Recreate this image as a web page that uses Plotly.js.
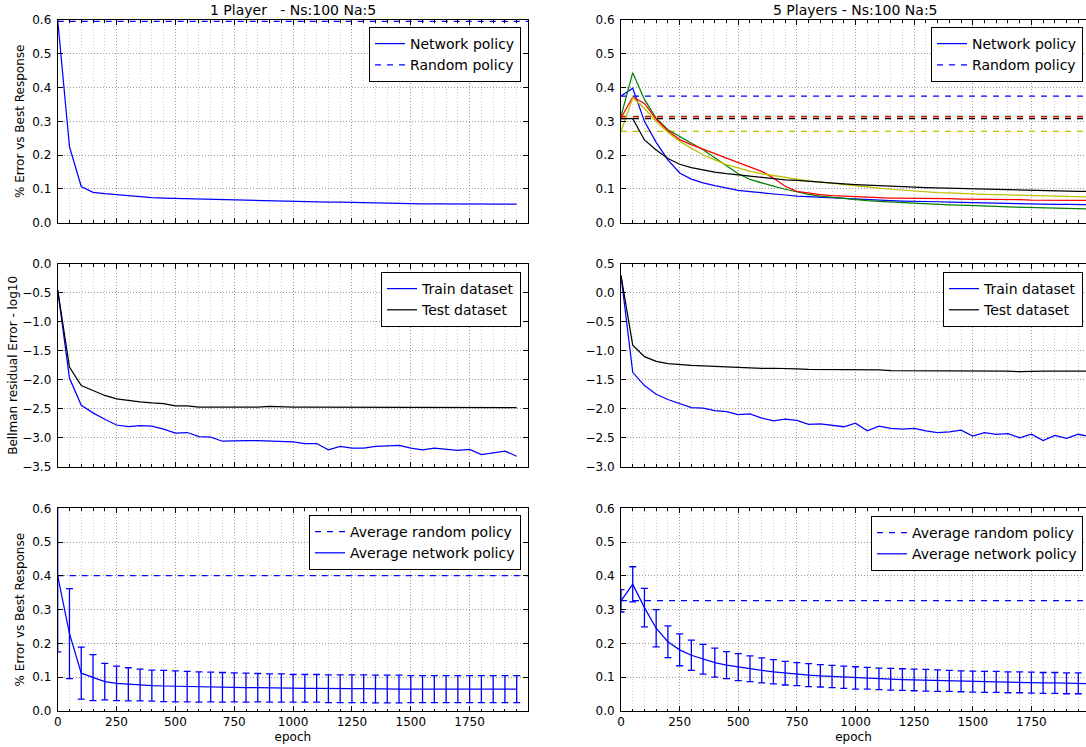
<!DOCTYPE html>
<html>
<head>
<meta charset="utf-8">
<script src="https://cdn.plot.ly/plotly-3.0.1.min.js"></script>
<style>
html,body{margin:0;padding:0;background:#fff;}
#chart{width:1086px;height:747px;}
</style>
</head>
<body>
<div id="chart"></div>
<script>
// ---------------- DATA ----------------
const epochs1 = [0,50,100,150,200,250,300,350,400,450,500,550,600,650,700,750,800,850,900,950,1000,1050,1100,1150,1200,1250,1300,1350,1400,1450,1500,1550,1600,1650,1700,1750,1800,1850,1900,1950];
const epochs5 = [0,50,100,150,200,250,300,350,400,450,500,550,600,650,700,750,800,850,900,950,1000,1050,1100,1150,1200,1250,1300,1350,1400,1450,1500,1550,1600,1650,1700,1750,1800,1850,1900,1950,2000];

// 1 player: % error vs best response
const network1 = [0.600,0.225,0.107,0.090,0.086,0.083,0.080,0.076,0.074,0.073,0.072,0.071,0.070,0.069,0.068,0.067,0.066,0.065,0.064,0.063,0.062,0.062,0.062,0.061,0.061,0.060,0.059,0.058,0.058,0.057,0.057,0.056,0.056,0.056,0.056,0.055,0.055,0.055,0.055,0.055];
const random1 = 0.596;

// 5 players: per-player network policy error (blue, green, red, yellow, black)
const net5Blue   = [0.375,0.398,0.300,0.238,0.186,0.147,0.129,0.118,0.110,0.103,0.096,0.092,0.088,0.084,0.082,0.079,0.077,0.075,0.073,0.071,0.069,0.067,0.066,0.065,0.064,0.064,0.063,0.062,0.061,0.060,0.060,0.059,0.058,0.057,0.056,0.056,0.055,0.054,0.054,0.053,0.053];
const net5Green  = [0.315,0.444,0.365,0.309,0.275,0.255,0.235,0.216,0.192,0.168,0.145,0.128,0.117,0.108,0.099,0.091,0.084,0.079,0.075,0.071,0.067,0.065,0.063,0.061,0.059,0.057,0.056,0.055,0.053,0.052,0.050,0.049,0.048,0.047,0.046,0.045,0.044,0.043,0.042,0.041,0.041];
const net5Red    = [0.310,0.372,0.353,0.306,0.272,0.246,0.231,0.217,0.204,0.191,0.178,0.166,0.152,0.132,0.108,0.093,0.087,0.083,0.080,0.078,0.076,0.075,0.074,0.073,0.073,0.072,0.072,0.071,0.071,0.070,0.070,0.069,0.069,0.068,0.068,0.067,0.067,0.067,0.066,0.066,0.066];
const net5Yellow = [0.270,0.370,0.338,0.300,0.267,0.241,0.220,0.201,0.186,0.172,0.162,0.152,0.145,0.139,0.134,0.129,0.124,0.120,0.116,0.112,0.108,0.105,0.102,0.099,0.096,0.093,0.091,0.089,0.088,0.086,0.085,0.084,0.083,0.082,0.081,0.080,0.079,0.078,0.077,0.076,0.076];
const net5Black  = [0.308,0.308,0.245,0.215,0.190,0.173,0.163,0.156,0.150,0.145,0.141,0.137,0.133,0.130,0.127,0.125,0.122,0.120,0.118,0.115,0.113,0.111,0.109,0.107,0.106,0.105,0.104,0.103,0.102,0.101,0.100,0.099,0.098,0.097,0.096,0.096,0.095,0.094,0.094,0.093,0.093];
// per-player random policy error (blue, green, red, yellow, black)
const random5 = [0.375, 0.315, 0.313, 0.270, 0.308];

// Bellman residual error (log10)
const train1 = [-0.45,-1.97,-2.44,-2.57,-2.68,-2.78,-2.81,-2.79,-2.80,-2.85,-2.92,-2.91,-2.98,-2.99,-3.06,-3.05,-3.05,-3.05,-3.06,-3.06,-3.07,-3.10,-3.10,-3.21,-3.15,-3.18,-3.18,-3.15,-3.14,-3.13,-3.18,-3.21,-3.18,-3.20,-3.22,-3.20,-3.29,-3.26,-3.23,-3.32];
const test1  = [-0.45,-1.78,-2.10,-2.19,-2.27,-2.33,-2.36,-2.38,-2.40,-2.41,-2.45,-2.45,-2.47,-2.47,-2.48,-2.48,-2.47,-2.47,-2.46,-2.47,-2.47,-2.47,-2.47,-2.48,-2.48,-2.48,-2.48,-2.47,-2.47,-2.48,-2.48,-2.48,-2.47,-2.47,-2.47,-2.47,-2.47,-2.47,-2.47,-2.48];
const train5 = [0.30,-1.37,-1.60,-1.75,-1.84,-1.91,-1.98,-1.99,-2.03,-2.05,-2.10,-2.09,-2.16,-2.21,-2.18,-2.20,-2.27,-2.26,-2.28,-2.31,-2.25,-2.38,-2.30,-2.34,-2.35,-2.34,-2.38,-2.41,-2.40,-2.37,-2.47,-2.41,-2.44,-2.43,-2.50,-2.44,-2.55,-2.46,-2.51,-2.44,-2.48];
const test5  = [0.30,-0.90,-1.10,-1.18,-1.22,-1.24,-1.25,-1.26,-1.27,-1.28,-1.29,-1.29,-1.30,-1.30,-1.30,-1.31,-1.32,-1.32,-1.32,-1.33,-1.33,-1.33,-1.33,-1.34,-1.34,-1.34,-1.34,-1.34,-1.35,-1.35,-1.35,-1.35,-1.35,-1.35,-1.36,-1.35,-1.35,-1.35,-1.35,-1.35,-1.35];

// Averages with standard deviation
const avgNet1 = [0.400,0.229,0.112,0.099,0.087,0.082,0.079,0.077,0.075,0.074,0.073,0.072,0.071,0.071,0.070,0.070,0.069,0.069,0.068,0.068,0.067,0.067,0.067,0.066,0.066,0.066,0.066,0.065,0.065,0.065,0.065,0.065,0.065,0.065,0.065,0.065,0.065,0.065,0.065,0.065];
const avgSd1  = [0.225,0.133,0.077,0.068,0.054,0.051,0.049,0.047,0.046,0.046,0.046,0.045,0.045,0.044,0.044,0.043,0.043,0.042,0.042,0.042,0.041,0.041,0.041,0.041,0.041,0.041,0.041,0.041,0.041,0.041,0.040,0.040,0.040,0.040,0.040,0.040,0.040,0.040,0.040,0.040];
const avgRandom1 = 0.401;
const avgNet5 = [0.326,0.375,0.306,0.245,0.205,0.181,0.165,0.153,0.143,0.136,0.130,0.125,0.120,0.116,0.112,0.109,0.106,0.104,0.102,0.100,0.098,0.097,0.095,0.094,0.093,0.092,0.091,0.090,0.089,0.088,0.087,0.086,0.086,0.085,0.085,0.084,0.083,0.083,0.082,0.082,0.081];
const avgSd5  = [0.033,0.052,0.057,0.055,0.047,0.047,0.045,0.044,0.043,0.040,0.040,0.038,0.037,0.036,0.035,0.034,0.034,0.033,0.033,0.033,0.033,0.032,0.032,0.032,0.032,0.032,0.032,0.032,0.031,0.031,0.031,0.031,0.031,0.031,0.031,0.031,0.031,0.031,0.031,0.031,0.031];
const avgRandom5 = 0.327;

const titleLeft = "1 Player\u00a0\u00a0 - Ns:100 Na:5";
const titleRight = "5 Players - Ns:100 Na:5";

// ---------------- LAYOUT HELPERS ----------------
const W = 1086, H = 747;
const fx = p => p / W;
const fy = p => 1 - p / H;
const FONT = "DejaVu Sans, Liberation Sans, sans-serif";
const BLUE = "#0000ff";
const playerColors = ["#0000ff", "#008000", "#ff0000", "#bfbf00", "#000000"];
const DASH = "6px,6px";
const X_FULL = [0, 2000];
const LW = 1.25;

const domXL = [fx(57.7), fx(528)];
const domXR = [fx(621), 1];
const rangeXL = [0, 1998];
const rangeXR = [0, 2000 * (W - 621) / (1090 - 621)];
const domTop = [fy(222.7), fy(20)];
const domMid = [fy(466.7), fy(264)];
const domBot = [fy(711), fy(508.3)];

function xax(domain, range, anchor, labels) {
  return {
    domain: domain, range: range, anchor: anchor,
    tick0: 0, dtick: 250, ticks: "inside", ticklen: 5, tickwidth: 1, tickcolor: "#000",
    showline: true, linecolor: "#000", linewidth: 1, mirror: "ticks",
    showgrid: true, gridcolor: "#9a9a9a", griddash: "1px,2px", gridwidth: 1,
    zeroline: false, showticklabels: labels,
    tickfont: {family: FONT, size: 12, color: "#000"},
    minor: {dtick: 50, tick0: 0, ticks: "inside", ticklen: 2.5, tickcolor: "#000",
            showgrid: true, gridcolor: "#cfcfcf", griddash: "1px,2px", gridwidth: 1},
    title: labels ? {text: "epoch", font: {family: FONT, size: 12, color: "#000"}, standoff: 4} : {text: ""},
    fixedrange: true
  };
}
function yax(domain, range, anchor, mirror, title) {
  return {
    domain: domain, range: range, anchor: anchor,
    dtick: (range[1] - range[0]) > 1 ? 0.5 : 0.1, tick0: 0, tickformat: ".1f",
    ticks: "inside", ticklen: 5, tickwidth: 1, tickcolor: "#000",
    showline: true, linecolor: "#000", linewidth: 1, mirror: mirror ? "ticks" : false,
    showgrid: true, gridcolor: "#9a9a9a", griddash: "1px,2px", gridwidth: 1,
    zeroline: false, ticklabelstandoff: 3,
    tickfont: {family: FONT, size: 12, color: "#000"},
    title: title ? {text: title, font: {family: FONT, size: 12, color: "#000"}} : {text: ""},
    fixedrange: true
  };
}
function legendBox(rightPx, topPx) {
  return {
    x: fx(rightPx), xanchor: "right", y: fy(topPx), yanchor: "top",
    bgcolor: "#ffffff", bordercolor: "#000", borderwidth: 1,
    font: {family: FONT, size: 14, color: "#000"},
    tracegroupgap: 0, itemwidth: 30
  };
}

// ---------------- TRACES ----------------
const traces = [];
// Top-left
traces.push({x: epochs1, y: network1, xaxis: "x", yaxis: "y", mode: "lines",
  line: {color: BLUE, width: LW}, name: "Network policy", legend: "legend", legendrank: 1});
traces.push({x: X_FULL, y: [random1, random1], xaxis: "x", yaxis: "y", mode: "lines",
  line: {color: BLUE, width: LW, dash: DASH}, name: "Random policy", legend: "legend", legendrank: 2});

// Top-right: random lines (drawn first) then network curves
const drawOrder = [1, 4, 3, 2, 0];
drawOrder.forEach(i => {
  traces.push({x: X_FULL, y: [random5[i], random5[i]], xaxis: "x2", yaxis: "y2", mode: "lines",
    line: {color: playerColors[i], width: LW, dash: DASH},
    name: "Random policy", legend: "legend2", legendrank: 2, showlegend: i === 0});
});
const net5 = [net5Blue, net5Green, net5Red, net5Yellow, net5Black];
[0, 1, 2, 3, 4].forEach(i => {
  traces.push({x: epochs5, y: net5[i], xaxis: "x2", yaxis: "y2", mode: "lines",
    line: {color: playerColors[i], width: LW},
    name: "Network policy", legend: "legend2", legendrank: 1, showlegend: i === 0});
});

// Middle-left / middle-right
traces.push({x: epochs1, y: train1, xaxis: "x3", yaxis: "y3", mode: "lines",
  line: {color: BLUE, width: LW}, name: "Train dataset", legend: "legend3", legendrank: 1});
traces.push({x: epochs1, y: test1, xaxis: "x3", yaxis: "y3", mode: "lines",
  line: {color: "#000", width: LW}, name: "Test dataset", legend: "legend3", legendrank: 2});
traces.push({x: epochs5, y: train5, xaxis: "x4", yaxis: "y4", mode: "lines",
  line: {color: BLUE, width: LW}, name: "Train dataset", legend: "legend4", legendrank: 1});
traces.push({x: epochs5, y: test5, xaxis: "x4", yaxis: "y4", mode: "lines",
  line: {color: "#000", width: LW}, name: "Test dataset", legend: "legend4", legendrank: 2});

// Bottom-left / bottom-right
traces.push({x: X_FULL, y: [avgRandom1, avgRandom1], xaxis: "x5", yaxis: "y5", mode: "lines",
  line: {color: BLUE, width: LW, dash: DASH}, name: "Average random policy", legend: "legend5", legendrank: 1});
traces.push({x: epochs1, y: avgNet1, xaxis: "x5", yaxis: "y5", mode: "lines",
  line: {color: BLUE, width: LW}, name: "Average network policy", legend: "legend5", legendrank: 2,
  error_y: {type: "data", array: avgSd1, visible: true, color: BLUE, thickness: 1.3, width: 3.5}});
traces.push({x: X_FULL, y: [avgRandom5, avgRandom5], xaxis: "x6", yaxis: "y6", mode: "lines",
  line: {color: BLUE, width: LW, dash: DASH}, name: "Average random policy", legend: "legend6", legendrank: 1});
traces.push({x: epochs5, y: avgNet5, xaxis: "x6", yaxis: "y6", mode: "lines",
  line: {color: BLUE, width: LW}, name: "Average network policy", legend: "legend6", legendrank: 2,
  error_y: {type: "data", array: avgSd5, visible: true, color: BLUE, thickness: 1.3, width: 3.5}});

// ---------------- LAYOUT ----------------
const layout = {
  width: W, height: H,
  margin: {l: 0, r: 0, t: 0, b: 0},
  paper_bgcolor: "#fff", plot_bgcolor: "#fff",
  font: {family: FONT, size: 12, color: "#000"},
  showlegend: true,
  xaxis:  xax(domXL, rangeXL, "y", false),
  yaxis:  yax(domTop, [0, 0.6], "x", true, "% Error vs Best Response"),
  xaxis2: xax(domXR, rangeXR, "y2", false),
  yaxis2: yax(domTop, [0, 0.6], "x2", false, null),
  xaxis3: xax(domXL, rangeXL, "y3", false),
  yaxis3: yax(domMid, [-3.5, 0], "x3", true, "Bellman residual Error - log10"),
  xaxis4: xax(domXR, rangeXR, "y4", false),
  yaxis4: yax(domMid, [-3.0, 0.5], "x4", false, null),
  xaxis5: xax(domXL, rangeXL, "y5", true),
  yaxis5: yax(domBot, [0, 0.6], "x5", true, "% Error vs Best Response"),
  xaxis6: xax(domXR, rangeXR, "y6", true),
  yaxis6: yax(domBot, [0, 0.6], "x6", false, null),
  legend:  legendBox(521, 27),
  legend2: legendBox(1083, 27),
  legend3: legendBox(521, 272),
  legend4: legendBox(1083, 272),
  legend5: legendBox(521, 515),
  legend6: legendBox(1083, 516),
  annotations: [
    {text: titleLeft, xref: "paper", yref: "paper", x: (domXL[0] + domXL[1]) / 2, y: fy(20),
     xanchor: "center", yanchor: "bottom", showarrow: false, font: {family: FONT, size: 14, color: "#000"}},
    {text: titleRight, xref: "paper", yref: "paper", x: fx((621 + 1090) / 2), y: fy(20),
     xanchor: "center", yanchor: "bottom", showarrow: false, font: {family: FONT, size: 14, color: "#000"}}
  ]
};

Plotly.newPlot("chart", traces, layout, {displayModeBar: false, staticPlot: true});
</script>
</body>
</html>
